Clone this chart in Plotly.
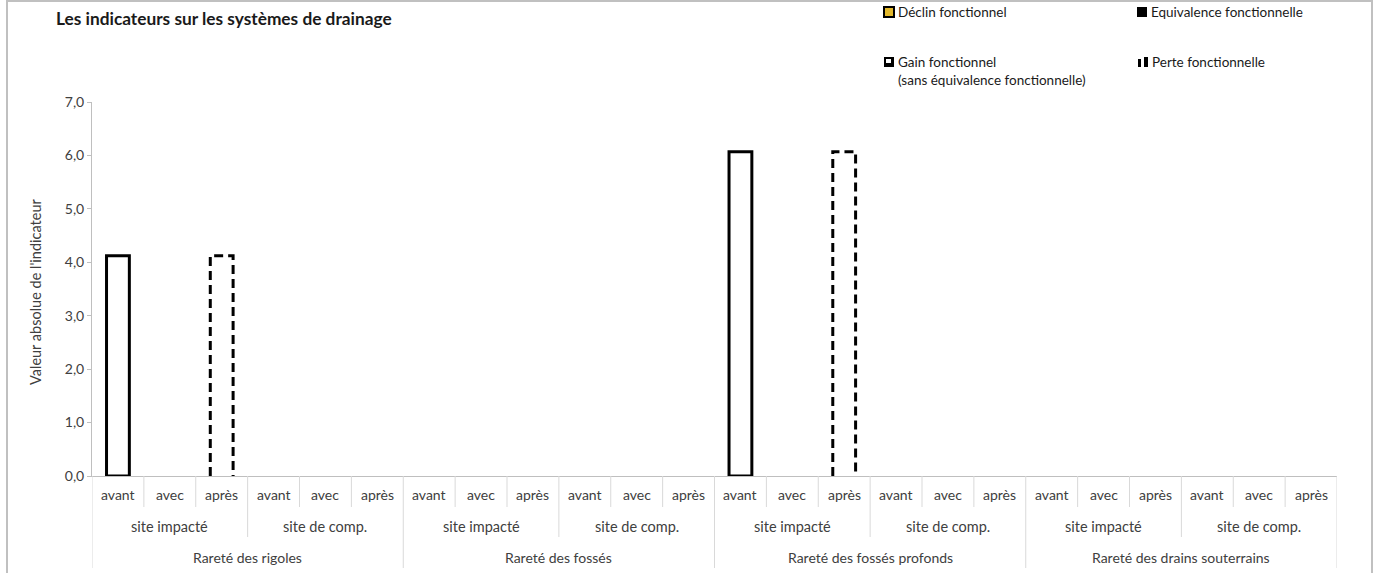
import plotly.graph_objects as go

# ---- data -------------------------------------------------------------
groups = ["Rareté des rigoles", "Rareté des fossés",
          "Rareté des fossés profonds", "Rareté des drains souterrains"]
sites = ["site impacté", "site de comp."]
phases = ["avant", "avec", "après"]

# absolute indicator value per (group, site, phase); None = no value
valeur_initiale = [4.12, None, None, None, None, None,
                   None, None, None, None, None, None,
                   6.07, None, None, None, None, None,
                   None, None, None, None, None, None]
declin_fonctionnel = [None] * 24
equivalence_fonctionnelle = [None] * 24
gain_fonctionnel = [None] * 24
perte_fonctionnelle = [None, None, 4.12, None, None, None,
                       None, None, None, None, None, None,
                       None, None, 6.07, None, None, None,
                       None, None, None, None, None, None]

y_ticks = [0, 1, 2, 3, 4, 5, 6, 7]

# ---- geometry ---------------------------------------------------------
W, H = 1389, 573
PL, PR, PT, PB = 92, 1337, 102, 476
FONT = "Lato"
TXT = "#404040"
BAR_W = 0.44


def px(x):
    return (x - PL) / (PR - PL)


def py(y):
    return (PB - y) / (PB - PT)


n = len(groups) * len(sites) * len(phases)
xs = list(range(n))

fig = go.Figure()

fig.add_trace(go.Bar(x=xs, y=valeur_initiale, width=BAR_W,
                     marker=dict(color="white", line=dict(color="black", width=3)),
                     showlegend=False, name="avant"))
for name, vals, col in [("Déclin fonctionnel", declin_fonctionnel, "#E2B82C"),
                        ("Equivalence fonctionnelle", equivalence_fonctionnelle, "black"),
                        ("Gain fonctionnel", gain_fonctionnel, "white")]:
    fig.add_trace(go.Bar(x=xs, y=vals, width=BAR_W, name=name, showlegend=False,
                         marker=dict(color=col, line=dict(color="black", width=2))))

# dashed outline for functional loss
lx, ly = [], []
for i, v in enumerate(perte_fonctionnelle):
    if v is None:
        continue
    lx += [i - BAR_W / 2, i - BAR_W / 2, i + BAR_W / 2, i + BAR_W / 2, None]
    ly += [0, v, v, 0, None]
fig.add_trace(go.Scatter(x=lx, y=ly, mode="lines", name="Perte fonctionnelle",
                         line=dict(color="black", width=3, dash="9px,5px"),
                         showlegend=False, hoverinfo="skip"))

shapes = []
annotations = []

# outer chart frame
shapes.append(dict(type="rect", xref="paper", yref="paper",
                   x0=px(7), x1=px(1372), y0=py(1), y1=py(640),
                   line=dict(color="#c0c0c0", width=2), fillcolor="rgba(0,0,0,0)",
                   layer="below"))

# category separators of the three-level axis
for b in range(n + 1):
    if b % 6 == 0:
        yb = 568
    elif b % 3 == 0:
        yb = 537
    else:
        yb = 507
    shapes.append(dict(type="line", xref="x", yref="paper",
                       x0=b - 0.5, x1=b - 0.5, y0=py(PB), y1=py(yb),
                       line=dict(color="#d9d9d9", width=1)))


def axis_label(x, y, text, size):
    annotations.append(dict(x=x, y=py(y), xref="x", yref="paper",
                            xanchor="center", yanchor="middle",
                            text=text, showarrow=False,
                            font=dict(family=FONT, size=size, color=TXT)))


for i in xs:
    axis_label(i, 494, phases[i % 3], 14)
for g in range(len(groups)):
    for s in range(len(sites)):
        axis_label(g * 6 + s * 3 + 1, 526, sites[s], 14.5)
    axis_label(g * 6 + 2.5, 557, groups[g], 14)

# title and axis title
annotations.append(dict(x=px(54), y=py(18), xref="paper", yref="paper",
                        xanchor="left", yanchor="middle", showarrow=False,
                        text="<b>Les indicateurs sur les systèmes de drainage</b>",
                        font=dict(family=FONT, size=17.3, color="#1a1a1a")))
annotations.append(dict(x=px(35), y=py(292), xref="paper", yref="paper",
                        xanchor="center", yanchor="middle",
                        textangle=-90, showarrow=False,
                        text="Valeur absolue de l'indicateur",
                        font=dict(family=FONT, size=14.5, color=TXT)))

# legend (2 x 2 grid)
leg_font = dict(family=FONT, size=13.5, color="#1a1a1a")


def box(x0, y0, x1, y1, fill, line="black", lw=0):
    shapes.append(dict(type="rect", xref="paper", yref="paper",
                       x0=px(x0), x1=px(x1), y0=py(y0), y1=py(y1),
                       fillcolor=fill, line=dict(color=line, width=lw)))


def legend_text(x, y, text):
    annotations.append(dict(x=px(x), y=py(y), xref="paper", yref="paper",
                            xanchor="left", yanchor="middle", showarrow=False,
                            text=text, font=leg_font))


box(884, 7, 894, 17, "#E2B82C", "black", 2)
legend_text(896, 12, "Déclin fonctionnel")
box(1137, 7, 1147, 17, "black")
legend_text(1149, 12, "Equivalence fonctionnelle")
box(884, 57, 894, 67, "black")
box(886, 59, 891, 63, "white")
legend_text(896, 62, "Gain fonctionnel")
legend_text(896, 80, "(sans équivalence fonctionnelle)")
box(1138, 59, 1141, 67, "black")
box(1144, 57, 1148, 67, "black")
legend_text(1150, 62, "Perte fonctionnelle")

fig.update_layout(
    width=W, height=H,
    margin=dict(l=PL, r=W - PR, t=PT, b=H - PB),
    paper_bgcolor="white", plot_bgcolor="white",
    separators=", ",
    barmode="overlay",
    showlegend=False,
    shapes=shapes, annotations=annotations,
    xaxis=dict(range=[-0.5, n - 0.5], tickvals=xs, showticklabels=False,
               ticks="", showgrid=False, zeroline=False,
               showline=True, linecolor="#bfbfbf", linewidth=1, fixedrange=True),
    yaxis=dict(range=[0, 7], tickvals=y_ticks, tickformat=".1f",
               ticks="outside", ticklen=4, tickcolor="#bfbfbf",
               showgrid=False, zeroline=False,
               showline=True, linecolor="#bfbfbf", linewidth=1,
               tickfont=dict(family=FONT, size=14, color=TXT), fixedrange=True),
)

fig.write_html("out.html")
